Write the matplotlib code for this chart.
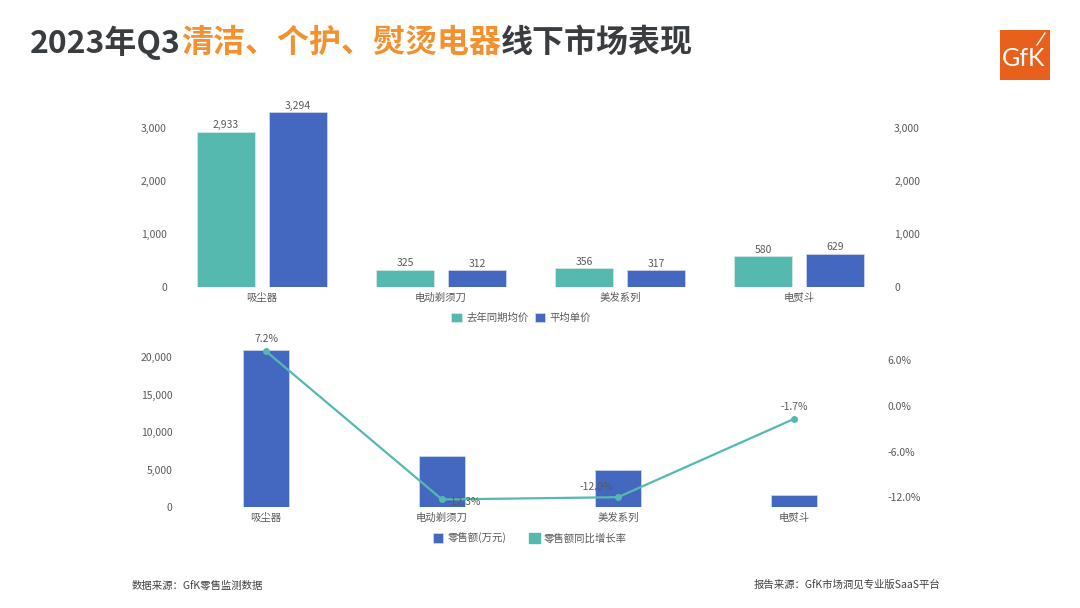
import matplotlib
matplotlib.use("Agg")
import matplotlib.pyplot as plt
from matplotlib.patches import Rectangle
import numpy as np

plt.rcParams['font.family'] = ['Noto Sans CJK SC', 'DejaVu Sans']

# data
categories = ['吸尘器', '电动剃须刀', '美发系列', '电熨斗']
prev_price = [2933, 325, 356, 580]      # 去年同期均价
avg_price = [3294, 312, 317, 629]       # 平均单价
sales = [21000, 6800, 4900, 1600]       # 零售额(万元)
growth = [7.2, -12.3, -12.0, -1.7]      # 零售额同比增长率 (%)
price_ticks = [0, 1000, 2000, 3000]
sales_ticks = [0, 5000, 10000, 15000, 20000]
growth_ticks = [-12, -6, 0, 6]

TEAL = '#55b9b0'
BLUE = '#4468bf'
GRAY = '#595959'
DARK = '#3a3d40'
ORANGE = '#f39130'
FS = 7.5

fig = plt.figure(figsize=(10.8, 6.08), dpi=100)
W, H = 1080, 608

def frac_box(left, top, right, bottom):
    return [left / W, 1 - bottom / H, (right - left) / W, (bottom - top) / H]

def clean(ax):
    for s in ax.spines.values():
        s.set_visible(False)
    ax.tick_params(length=0, labelsize=FS, labelcolor=GRAY, pad=4)

x = np.arange(len(categories))

# ---- top chart: prices ----
ax1 = fig.add_axes(frac_box(172.5, 101.5, 888.5, 287))
bw = 0.324
off = 0.201
b1 = ax1.bar(x - off, prev_price, bw, color=TEAL, edgecolor='#d7ecea', linewidth=0.5, label='去年同期均价')
b2 = ax1.bar(x + off, avg_price, bw, color=BLUE, edgecolor='#d3dcf0', linewidth=0.5, label='平均单价')
for bars, vals in ((b1, prev_price), (b2, avg_price)):
    for r, v in zip(bars, vals):
        ax1.text(r.get_x() + r.get_width() / 2, v + 25, f'{v:,}', ha='center', va='bottom',
                 fontsize=FS, color=GRAY)
ax1.set_xlim(-0.5, len(categories) - 0.5)
ax1.set_ylim(0, 3500)
ax1.set_xticks(x)
ax1.set_xticklabels(categories)
ax1.set_yticks(price_ticks)
ax1.set_yticklabels([f'{t:,}' for t in price_ticks])
clean(ax1)
ax1r = ax1.twinx()
ax1r.set_ylim(ax1.get_ylim())
ax1r.set_yticks(price_ticks)
ax1r.set_yticklabels([f'{t:,}' for t in price_ticks])
clean(ax1r)
ax1.legend(loc='center', bbox_to_anchor=(521 / W, 1 - 318 / H), bbox_transform=fig.transFigure,
           ncol=2, frameon=False, fontsize=FS, labelcolor=GRAY, handlelength=1.0, handleheight=1.0,
           handletextpad=0.4, columnspacing=0.6)

# ---- bottom chart: sales + growth ----
ax2 = fig.add_axes(frac_box(178, 342, 882, 507))
bars = ax2.bar(x, sales, 0.26, color=BLUE, edgecolor='#d3dcf0', linewidth=0.5, label='零售额(万元)')
ax2.set_xlim(-0.5, len(categories) - 0.5)
ax2.set_ylim(0, 22000)
ax2.set_xticks(x)
ax2.set_xticklabels(categories)
ax2.set_yticks(sales_ticks)
ax2.set_yticklabels([f'{t:,}' for t in sales_ticks])
clean(ax2)

ax2r = ax2.twinx()
ln, = ax2r.plot(x, growth, color=TEAL, linewidth=1.6, marker='o', markersize=4, label='零售额同比增长率')
ax2r.set_ylim(-13.29, 8.42)
ax2r.set_yticks(growth_ticks)
ax2r.set_yticklabels([f'{t:.1f}%' for t in growth_ticks])
clean(ax2r)
label_offsets = [(0, 5, 'center', 'bottom'), (4, -2, 'left', 'center'),
                 (-4, 4, 'right', 'bottom'), (0, 5, 'center', 'bottom')]
for xi, g, (dx, dy, ha, va) in zip(x, growth, label_offsets):
    ax2r.annotate(f'{g:.1f}%', (xi, g), xytext=(dx, dy), textcoords='offset points',
                  ha=ha, va=va, fontsize=FS, color=GRAY)

fig.legend([bars, Rectangle((0, 0), 1, 1, color=TEAL)], ['零售额(万元)', '零售额同比增长率'],
           loc='center', bbox_to_anchor=(530 / W, 1 - 538 / H), ncol=2, frameon=False,
           fontsize=FS, labelcolor=GRAY, handlelength=1.0, handleheight=1.0,
           handletextpad=0.4, columnspacing=2.2)

# ---- title in colored pieces ----
pieces = [('2023年Q3', DARK), ('清洁、个护、熨烫电器', ORANGE), ('线下市场表现', DARK)]
fig.canvas.draw()
renderer = fig.canvas.get_renderer()
xpos = 30 / W
for txt, col in pieces:
    t = fig.text(xpos, 1 - 43 / H, txt, fontsize=23, fontweight='heavy', color=col,
                 ha='left', va='center')
    bb = t.get_window_extent(renderer=renderer)
    xpos += bb.width / W

# ---- logo ----
fig.patches.append(Rectangle((1000 / W, 1 - 80 / H), 50 / W, 50 / H, transform=fig.transFigure,
                             facecolor='#e8601c', edgecolor='none'))
fig.text(1024 / W, 1 - 59 / H, 'GfK', fontsize=18, color='white', ha='center', va='center',
         family='Lato')
fig.lines.append(plt.Line2D([1037 / W, 1045 / W], [1 - 45 / H, 1 - 33 / H], transform=fig.transFigure,
                            color='white', linewidth=1))

# ---- footer ----
fig.text(132 / W, 1 - 585 / H, '数据来源：GfK零售监测数据', fontsize=FS, color='#404040',
         ha='left', va='center')
fig.text(940 / W, 1 - 585 / H, '报告来源：GfK市场洞见专业版SaaS平台', fontsize=FS, color='#404040',
         ha='right', va='center')

fig.savefig('out.png', dpi=100)
